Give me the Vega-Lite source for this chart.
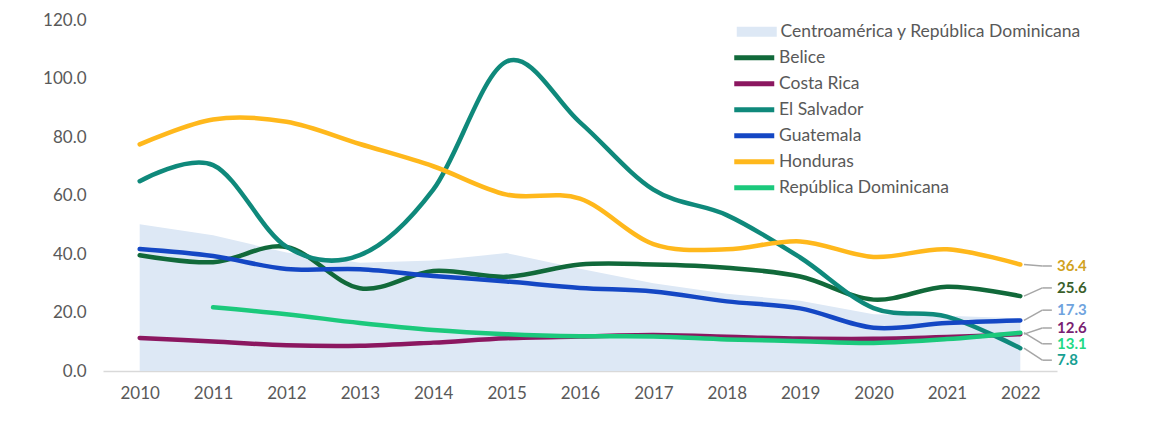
{
  "$schema": "https://vega.github.io/schema/vega-lite/v6.json",
  "width": 954,
  "height": 351,
  "autosize": "none",
  "padding": {"left": 103, "top": 20, "right": 109, "bottom": 53},
  "config": {
    "view": {"stroke": null},
    "font": "Lato",
    "axis": {
      "grid": false,
      "ticks": false,
      "title": null,
      "labelFont": "Lato",
      "labelFontSize": 17,
      "labelColor": "#595959"
    },
    "legend": {
      "title": null,
      "labelFont": "Lato",
      "labelFontSize": 17.5,
      "labelColor": "#595959",
      "labelLimit": 400,
      "padding": 0
    }
  },
  "datasets": {
    "region": [
      {"anio": 2010, "tasa": 50.2},
      {"anio": 2011, "tasa": 46.4},
      {"anio": 2012, "tasa": 40.5},
      {"anio": 2013, "tasa": 37.0},
      {"anio": 2014, "tasa": 37.8},
      {"anio": 2015, "tasa": 40.3},
      {"anio": 2016, "tasa": 35.0},
      {"anio": 2017, "tasa": 30.0},
      {"anio": 2018, "tasa": 26.4},
      {"anio": 2019, "tasa": 24.0},
      {"anio": 2020, "tasa": 19.4},
      {"anio": 2021, "tasa": 18.9},
      {"anio": 2022, "tasa": 18.0}
    ],
    "paises": [
      {"pais": "Belice", "anio": 2010, "tasa": 39.6},
      {"pais": "Belice", "anio": 2011, "tasa": 37.2},
      {"pais": "Belice", "anio": 2012, "tasa": 42.4},
      {"pais": "Belice", "anio": 2013, "tasa": 28.3},
      {"pais": "Belice", "anio": 2014, "tasa": 34.2},
      {"pais": "Belice", "anio": 2015, "tasa": 32.2},
      {"pais": "Belice", "anio": 2016, "tasa": 36.4},
      {"pais": "Belice", "anio": 2017, "tasa": 36.4},
      {"pais": "Belice", "anio": 2018, "tasa": 35.3},
      {"pais": "Belice", "anio": 2019, "tasa": 32.3},
      {"pais": "Belice", "anio": 2020, "tasa": 24.4},
      {"pais": "Belice", "anio": 2021, "tasa": 28.8},
      {"pais": "Belice", "anio": 2022, "tasa": 25.6},
      {"pais": "Costa Rica", "anio": 2010, "tasa": 11.3},
      {"pais": "Costa Rica", "anio": 2011, "tasa": 10.1},
      {"pais": "Costa Rica", "anio": 2012, "tasa": 8.8},
      {"pais": "Costa Rica", "anio": 2013, "tasa": 8.6},
      {"pais": "Costa Rica", "anio": 2014, "tasa": 9.7},
      {"pais": "Costa Rica", "anio": 2015, "tasa": 11.2},
      {"pais": "Costa Rica", "anio": 2016, "tasa": 11.8},
      {"pais": "Costa Rica", "anio": 2017, "tasa": 12.3},
      {"pais": "Costa Rica", "anio": 2018, "tasa": 11.7},
      {"pais": "Costa Rica", "anio": 2019, "tasa": 11.1},
      {"pais": "Costa Rica", "anio": 2020, "tasa": 11.0},
      {"pais": "Costa Rica", "anio": 2021, "tasa": 11.6},
      {"pais": "Costa Rica", "anio": 2022, "tasa": 12.6},
      {"pais": "El Salvador", "anio": 2010, "tasa": 64.9},
      {"pais": "El Salvador", "anio": 2011, "tasa": 70.4},
      {"pais": "El Salvador", "anio": 2012, "tasa": 42.5},
      {"pais": "El Salvador", "anio": 2013, "tasa": 39.6},
      {"pais": "El Salvador", "anio": 2014, "tasa": 62.0},
      {"pais": "El Salvador", "anio": 2015, "tasa": 105.8},
      {"pais": "El Salvador", "anio": 2016, "tasa": 85.0},
      {"pais": "El Salvador", "anio": 2017, "tasa": 62.0},
      {"pais": "El Salvador", "anio": 2018, "tasa": 53.3},
      {"pais": "El Salvador", "anio": 2019, "tasa": 38.8},
      {"pais": "El Salvador", "anio": 2020, "tasa": 21.5},
      {"pais": "El Salvador", "anio": 2021, "tasa": 18.6},
      {"pais": "El Salvador", "anio": 2022, "tasa": 7.8},
      {"pais": "Guatemala", "anio": 2010, "tasa": 41.7},
      {"pais": "Guatemala", "anio": 2011, "tasa": 39.3},
      {"pais": "Guatemala", "anio": 2012, "tasa": 34.9},
      {"pais": "Guatemala", "anio": 2013, "tasa": 34.8},
      {"pais": "Guatemala", "anio": 2014, "tasa": 32.5},
      {"pais": "Guatemala", "anio": 2015, "tasa": 30.6},
      {"pais": "Guatemala", "anio": 2016, "tasa": 28.4},
      {"pais": "Guatemala", "anio": 2017, "tasa": 27.2},
      {"pais": "Guatemala", "anio": 2018, "tasa": 23.8},
      {"pais": "Guatemala", "anio": 2019, "tasa": 21.4},
      {"pais": "Guatemala", "anio": 2020, "tasa": 14.8},
      {"pais": "Guatemala", "anio": 2021, "tasa": 16.4},
      {"pais": "Guatemala", "anio": 2022, "tasa": 17.3},
      {"pais": "Honduras", "anio": 2010, "tasa": 77.5},
      {"pais": "Honduras", "anio": 2011, "tasa": 86.0},
      {"pais": "Honduras", "anio": 2012, "tasa": 85.2},
      {"pais": "Honduras", "anio": 2013, "tasa": 77.6},
      {"pais": "Honduras", "anio": 2014, "tasa": 70.0},
      {"pais": "Honduras", "anio": 2015, "tasa": 60.3},
      {"pais": "Honduras", "anio": 2016, "tasa": 58.9},
      {"pais": "Honduras", "anio": 2017, "tasa": 43.4},
      {"pais": "Honduras", "anio": 2018, "tasa": 41.6},
      {"pais": "Honduras", "anio": 2019, "tasa": 44.3},
      {"pais": "Honduras", "anio": 2020, "tasa": 39.0},
      {"pais": "Honduras", "anio": 2021, "tasa": 41.6},
      {"pais": "Honduras", "anio": 2022, "tasa": 36.4},
      {"pais": "República Dominicana", "anio": 2011, "tasa": 21.8},
      {"pais": "República Dominicana", "anio": 2012, "tasa": 19.4},
      {"pais": "República Dominicana", "anio": 2013, "tasa": 16.4},
      {"pais": "República Dominicana", "anio": 2014, "tasa": 14.0},
      {"pais": "República Dominicana", "anio": 2015, "tasa": 12.6},
      {"pais": "República Dominicana", "anio": 2016, "tasa": 11.9},
      {"pais": "República Dominicana", "anio": 2017, "tasa": 11.8},
      {"pais": "República Dominicana", "anio": 2018, "tasa": 10.8},
      {"pais": "República Dominicana", "anio": 2019, "tasa": 10.2},
      {"pais": "República Dominicana", "anio": 2020, "tasa": 9.6},
      {"pais": "República Dominicana", "anio": 2021, "tasa": 10.9},
      {"pais": "República Dominicana", "anio": 2022, "tasa": 13.1}
    ],
    "etiquetas": [
      {"pais": "Honduras", "tasa": 36.4, "posicion": 35.9},
      {"pais": "Belice", "tasa": 25.6, "posicion": 28.4},
      {"pais": "Guatemala", "tasa": 17.3, "posicion": 20.8},
      {"pais": "Costa Rica", "tasa": 12.6, "posicion": 14.7},
      {"pais": "República Dominicana", "tasa": 13.1, "posicion": 9.3},
      {"pais": "El Salvador", "tasa": 7.8, "posicion": 3.7}
    ]
  },
  "layer": [
    {
      "data": {"name": "region"},
      "mark": {"type": "area", "interpolate": "linear"},
      "encoding": {
        "x": {
          "field": "anio",
          "type": "quantitative",
          "scale": {"domain": [2009.5, 2022.5], "nice": false, "zero": false},
          "axis": {
            "values": [2010, 2011, 2012, 2013, 2014, 2015, 2016, 2017, 2018, 2019, 2020, 2021, 2022],
            "format": "d",
            "domainColor": "#d9d9d9",
            "domainWidth": 1.5,
            "labelPadding": 14
          }
        },
        "y": {
          "field": "tasa",
          "type": "quantitative",
          "scale": {"domain": [0, 120], "nice": false},
          "axis": {
            "values": [0, 20, 40, 60, 80, 100, 120],
            "format": ".1f",
            "domain": false,
            "labelPadding": 17
          }
        },
        "fill": {
          "datum": "Centroamérica y República Dominicana",
          "type": "nominal",
          "scale": {"range": ["#dde8f5"]},
          "legend": {
            "orient": "none",
            "legendX": 645,
            "legendY": 3,
            "symbolType": "M-4,-1H4V1H-4Z",
            "symbolSize": 100,
            "symbolStrokeWidth": 0,
            "symbolOpacity": 1,
            "labelOffset": 15
          }
        }
      }
    },
    {
      "data": {"name": "paises"},
      "mark": {"type": "line", "interpolate": "cardinal", "strokeWidth": 4.5, "strokeCap": "round"},
      "encoding": {
        "x": {"field": "anio", "type": "quantitative"},
        "y": {"field": "tasa", "type": "quantitative"},
        "stroke": {
          "field": "pais",
          "type": "nominal",
          "scale": {
            "domain": ["Belice", "Costa Rica", "El Salvador", "Guatemala", "Honduras", "República Dominicana"],
            "range": ["#11693a", "#8b1760", "#0f897b", "#1447c4", "#ffb81c", "#1bc97c"]
          },
          "legend": {
            "orient": "none",
            "legendX": 642.5,
            "legendY": 29,
            "symbolType": "M-4,0H4",
            "symbolSize": 100,
            "symbolStrokeWidth": 5,
            "symbolStrokeCap": "round",
            "labelOffset": 16,
            "rowPadding": 5
          }
        }
      }
    },
    {
      "data": {"name": "etiquetas"},
      "mark": {"type": "rule", "color": "#a6a6a6", "strokeWidth": 1.5},
      "encoding": {
        "x": {"datum": 2022.05, "type": "quantitative"},
        "x2": {"datum": 2022.3},
        "y": {"field": "tasa", "type": "quantitative"},
        "y2": {"field": "posicion"}
      }
    },
    {
      "data": {"name": "etiquetas"},
      "mark": {"type": "rule", "color": "#a6a6a6", "strokeWidth": 1.5},
      "encoding": {
        "x": {"datum": 2022.3, "type": "quantitative"},
        "x2": {"datum": 2022.43},
        "y": {"field": "posicion", "type": "quantitative"}
      }
    },
    {
      "data": {"name": "etiquetas"},
      "mark": {"type": "text", "align": "left", "baseline": "middle", "font": "Lato", "fontSize": 15, "fontWeight": "bold"},
      "encoding": {
        "x": {"datum": 2022.5, "type": "quantitative"},
        "y": {"field": "posicion", "type": "quantitative"},
        "text": {"field": "tasa", "type": "quantitative", "format": ".1f"},
        "color": {
          "field": "pais",
          "type": "nominal",
          "scale": {
            "domain": ["Belice", "Costa Rica", "El Salvador", "Guatemala", "Honduras", "República Dominicana"],
            "range": ["#3b5f2b", "#7a1f72", "#17a092", "#6fa3de", "#d1a21f", "#22d985"]
          },
          "legend": null
        }
      }
    }
  ]
}
